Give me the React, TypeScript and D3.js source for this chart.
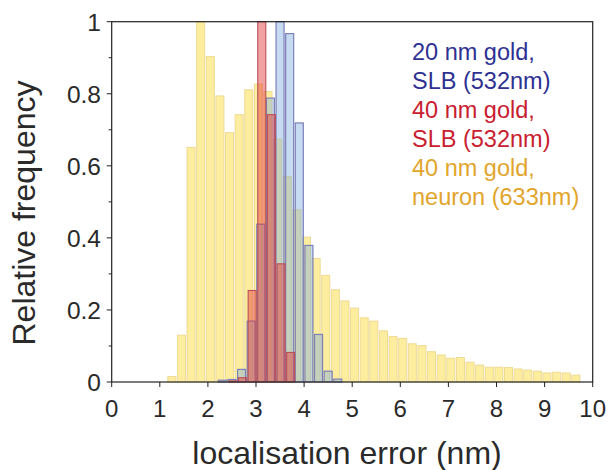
import React from "react";
import * as d3 from "d3";

// ---- data ----
const neuronCenters = [
  1.25, 1.45, 1.65, 1.85, 2.05, 2.25, 2.45, 2.65, 2.85, 3.05, 3.25, 3.45, 3.65, 3.85,
  4.05, 4.25, 4.45, 4.65, 4.85, 5.05, 5.25, 5.45, 5.65, 5.85, 6.05, 6.25, 6.45, 6.65,
  6.85, 7.05, 7.25, 7.45, 7.65, 7.85, 8.05, 8.25, 8.45, 8.65, 8.85, 9.05, 9.25, 9.45, 9.65,
];
const neuronValues = [
  0.015, 0.13, 0.651, 1.0, 0.903, 0.794, 0.692, 0.742, 0.811, 0.827, 0.806, 0.674, 0.57, 0.478,
  0.402, 0.343, 0.296, 0.256, 0.225, 0.205, 0.178, 0.169, 0.142, 0.126, 0.121, 0.106, 0.101, 0.084,
  0.075, 0.066, 0.068, 0.055, 0.047, 0.041, 0.041, 0.04, 0.036, 0.033, 0.03, 0.025, 0.027, 0.025, 0.019,
];

const slb20Centers = [2.3, 2.5, 2.7, 2.9, 3.1, 3.3, 3.5, 3.7, 3.9, 4.1, 4.3, 4.5, 4.7];
const slb20Values = [0.005, 0.007, 0.035, 0.169, 0.438, 0.788, 1.0, 0.967, 0.719, 0.379, 0.132, 0.03, 0.008];

const slb40Centers = [2.52, 2.72, 2.92, 3.12, 3.32, 3.52, 3.72];
const slb40Values = [0.003, 0.012, 0.254, 1.0, 0.742, 0.328, 0.082];

const binWidth = 0.2;

const xTicks = [0, 1, 2, 3, 4, 5, 6, 7, 8, 9, 10];
const yTickLabels = ["0", "0.2", "0.4", "0.6", "0.8", "1"];

const legendLines = [
  { text: "20 nm gold,", color: "#2E3192" },
  { text: "SLB (532nm)", color: "#2E3192" },
  { text: "40 nm gold,", color: "#C8202F" },
  { text: "SLB (532nm)", color: "#C8202F" },
  { text: "40 nm gold,", color: "#E2A52C" },
  { text: "neuron (633nm)", color: "#E2A52C" },
];

// ---- layout ----
const W = 610;
const H = 470;
const L = 111.7;
const R = 592.7;
const T = 21.7;
const B = 382;
const FONT = "'Liberation Sans', Arial, Helvetica, sans-serif";
const INK = "#2a2a2a";

export default function App() {
  const x = d3.scaleLinear().domain([0, 10]).range([L, R]);
  const y = d3.scaleLinear().domain([0, 1]).range([B, T]);
  const bw = x(binWidth) - x(0);
  const gap = 0.8;

  const bars = (
    centers: number[],
    values: number[],
    fill: string,
    stroke: string,
    sw: number,
    key: string
  ) =>
    centers.map((c, i) => {
      const x0 = x(c - binWidth / 2) + gap;
      const yt = y(values[i]);
      return (
        <rect
          key={key + i}
          x={x0}
          y={yt}
          width={bw - 2 * gap}
          height={B - yt}
          fill={fill}
          stroke={stroke}
          strokeWidth={sw}
        />
      );
    });

  const yTicks = d3.range(0, 11).map((i) => i / 10);

  return (
    <svg
      width={W}
      height={H}
      style={{ position: "absolute", left: 0, top: 0, background: "#fff" }}
      fontFamily={FONT}
    >
      <g>{bars(neuronCenters, neuronValues, "#FDEE9F", "#EEDA93", 1, "n")}</g>
      <g>{bars(slb20Centers, slb20Values, "rgba(120,170,225,0.42)", "#7C80B8", 1.2, "b")}</g>
      <g>{bars(slb40Centers, slb40Values, "rgba(228,48,48,0.45)", "#B9505A", 1.1, "r")}</g>

      {/* frame */}
      <rect x={L} y={T} width={R - L} height={B - T} fill="none" stroke="#222" strokeWidth={1.2} />

      {/* y ticks */}
      {yTicks.map((v, i) => (
        <line
          key={"yt" + i}
          x1={L - (i % 2 === 0 ? 5 : 3)}
          x2={L}
          y1={y(v)}
          y2={y(v)}
          stroke="#222"
          strokeWidth={1}
        />
      ))}
      {yTickLabels.map((t, i) => (
        <text
          key={"yl" + i}
          x={101}
          y={y(i * 0.2)}
          dy="0.36em"
          textAnchor="end"
          fontSize={24.5}
          fill={INK}
        >
          {t}
        </text>
      ))}

      {/* x ticks */}
      {xTicks.map((v) => (
        <g key={"xt" + v}>
          <line x1={x(v)} x2={x(v)} y1={B} y2={B + 5} stroke="#222" strokeWidth={1} />
          <text x={x(v)} y={417} textAnchor="middle" fontSize={24} fill={INK}>
            {v}
          </text>
        </g>
      ))}

      {/* axis titles */}
      <text x={347} y={464} textAnchor="middle" fontSize={32} fill={INK}>
        localisation error (nm)
      </text>
      <text
        transform={`translate(35,213) rotate(-90)`}
        textAnchor="middle"
        fontSize={32}
        fill={INK}
      >
        Relative frequency
      </text>

      {/* legend */}
      {legendLines.map((l, i) => (
        <text key={"lg" + i} x={412} y={59.5 + 29.1 * i} fontSize={23.5} fill={l.color}>
          {l.text}
        </text>
      ))}
    </svg>
  );
}
